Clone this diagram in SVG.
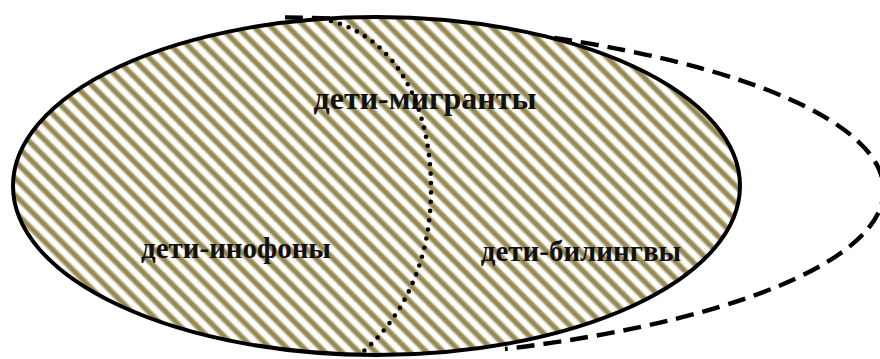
<svg xmlns="http://www.w3.org/2000/svg" width="880" height="359" viewBox="0 0 880 359">
  <style>
    .lbl { font-family: "Liberation Serif", "Times New Roman", serif; font-weight: bold; fill: #111; text-anchor: middle; }
    .big { font-size: 32px; }
    .mid { font-size: 29px; }
    .outer { fill: none; stroke: #000; stroke-width: 4.4; stroke-dasharray: 18 9; }
    .main { fill: url(#hatch); stroke: #000; stroke-width: 4; }
    .divider { fill: none; stroke: #000; stroke-width: 4.6; stroke-linecap: round; stroke-dasharray: 0 9.3; }
  </style>
  <defs>
    <pattern id="hatch" patternUnits="userSpaceOnUse" width="12" height="10" patternTransform="rotate(-45)">
      <rect x="0" y="0" width="12" height="10" fill="#ffffff"/>
      <rect x="1.2" y="0" width="7" height="10" fill="#d6cfb0"/>
      <rect x="2.2" y="0" width="5" height="10" fill="#b3a87d"/>
      <rect x="3" y="0" width="3.4" height="10" fill="#958954"/>
    </pattern>
  </defs>
  <rect x="0" y="0" width="880" height="359" fill="#ffffff"/>
  <g id="connectors">
    <path id="outer-set" class="outer" d="M 285 17.4 A 628 173 0 0 1 505 349"/>
  </g>
  <g id="node-migrants">
    <ellipse class="main" cx="376.5" cy="186" rx="363.5" ry="169"/>
    <text class="lbl big" x="425" y="109">дети-мигранты</text>
  </g>
  <g id="divider">
    <path class="divider" d="M 331 21 C 400 40 430 110 431 185 C 432 262 402 320 358 356"/>
  </g>
  <g id="node-inophones">
    <text class="lbl mid" x="236" y="258">дети-инофоны</text>
  </g>
  <g id="node-bilinguals">
    <text class="lbl mid" x="581" y="261">дети-билингвы</text>
  </g>
</svg>
